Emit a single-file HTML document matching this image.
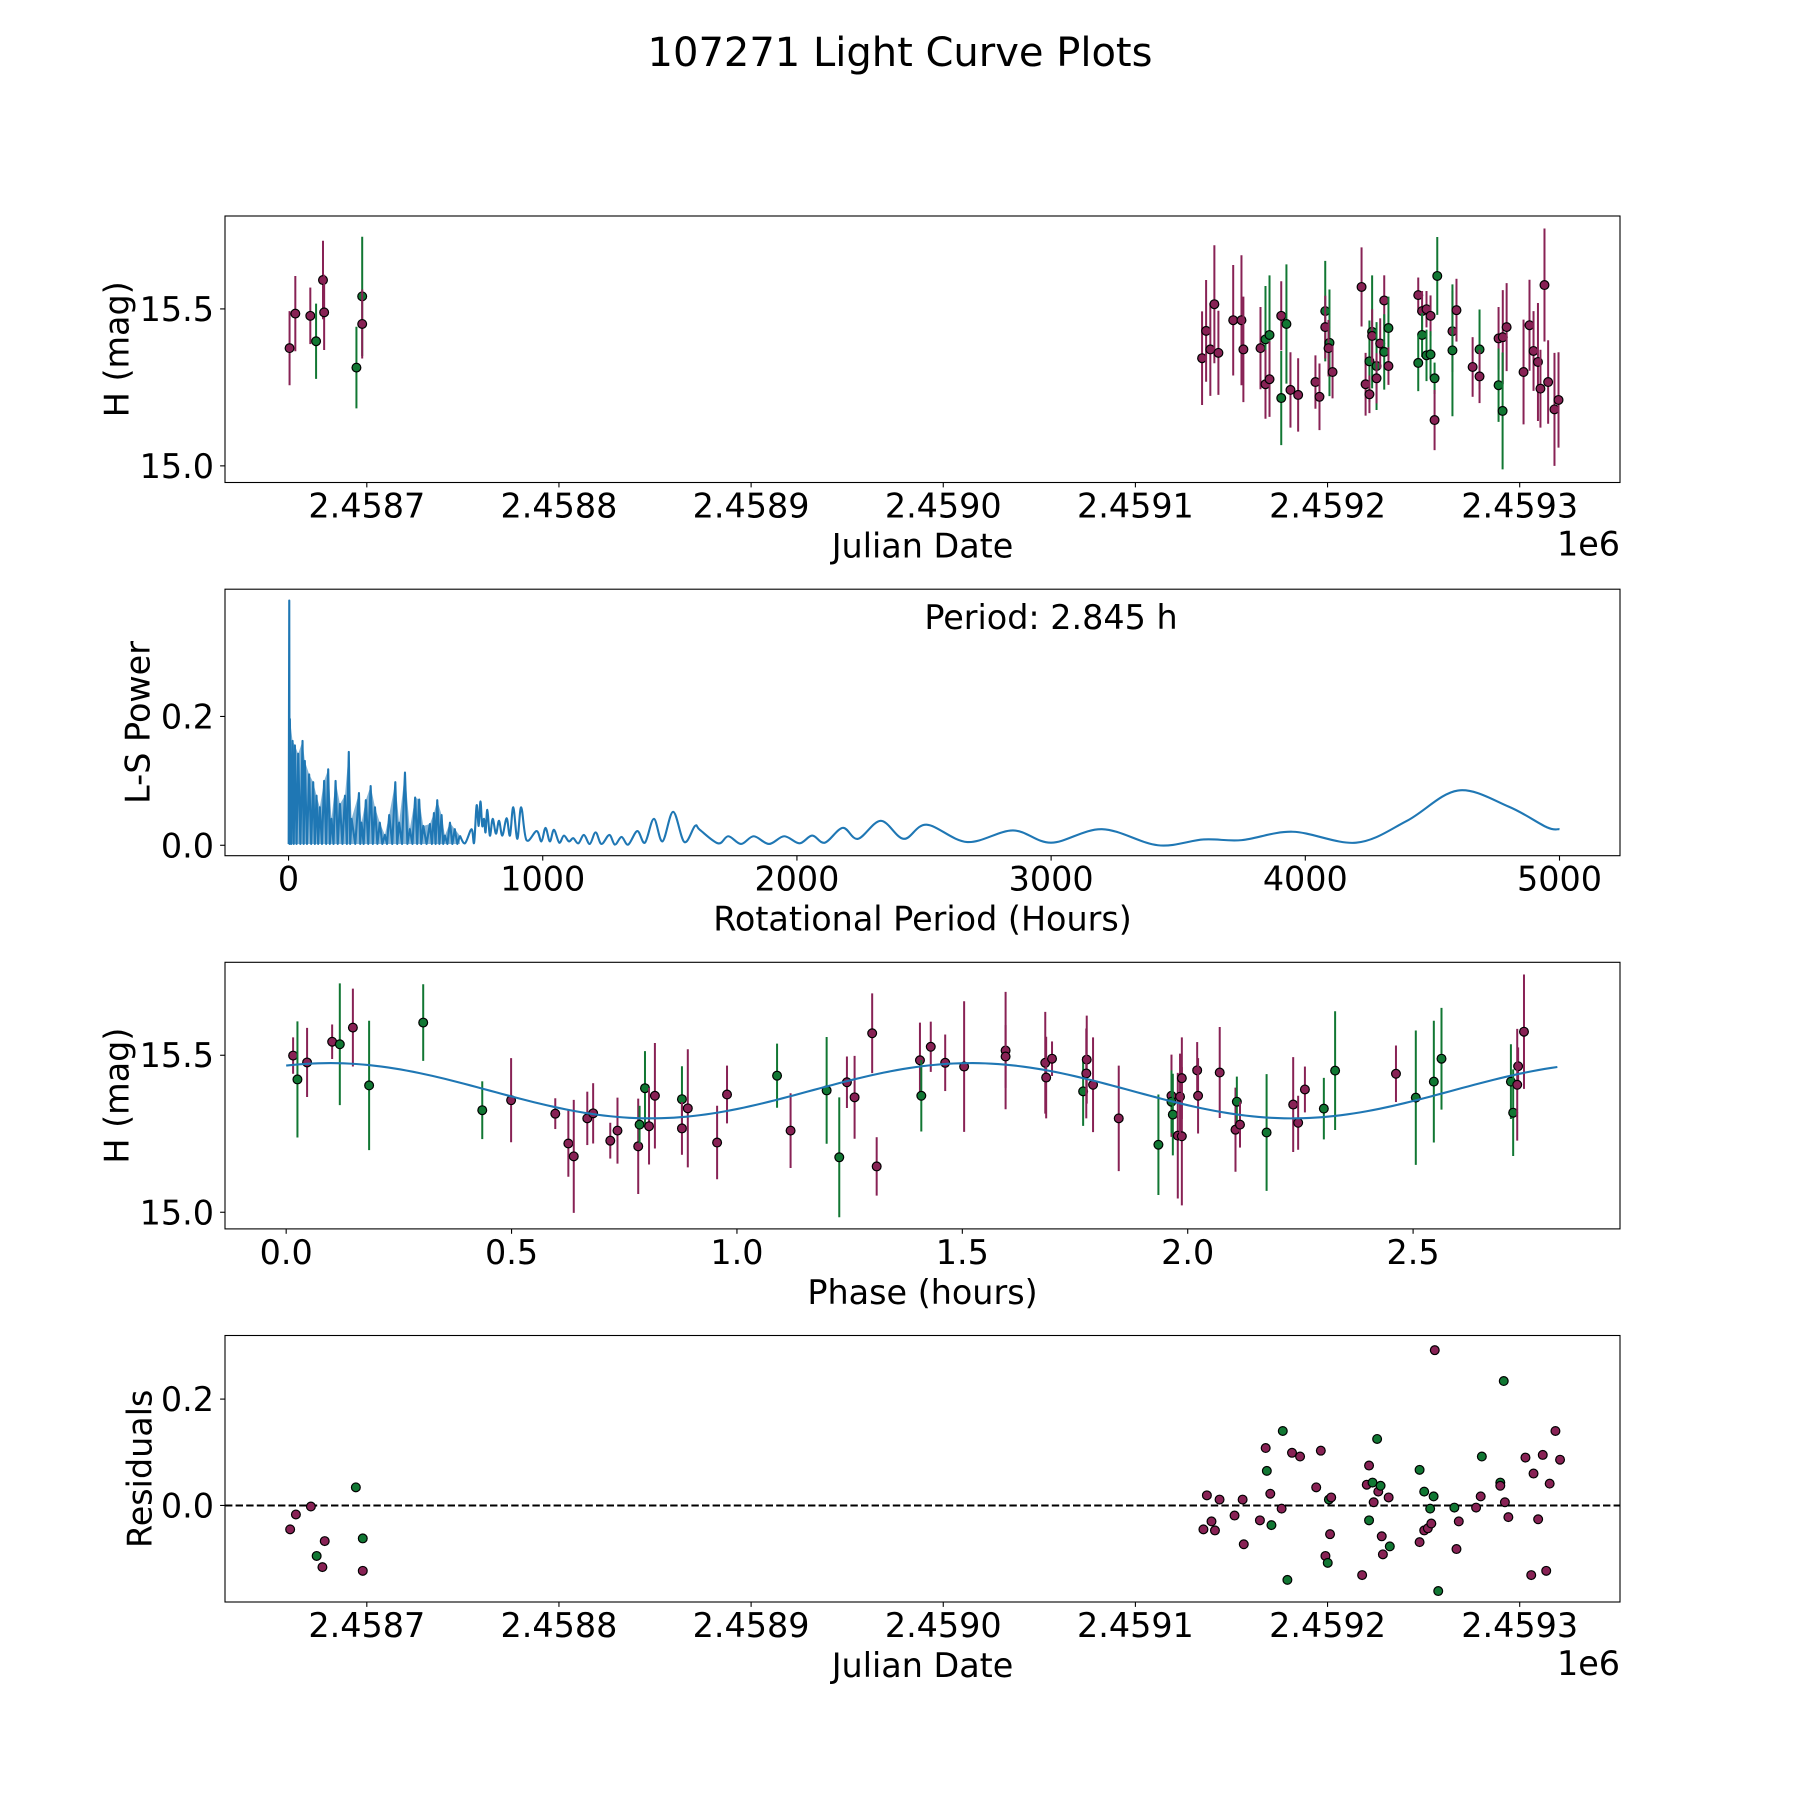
<!DOCTYPE html>
<html><head><meta charset="utf-8"><title>107271 Light Curve Plots</title>
<style>html,body{margin:0;padding:0;background:#fff}svg{display:block}text{font-family:"DejaVu Sans","Liberation Sans",sans-serif;fill:#000}</style>
</head><body>
<svg id="fig" xmlns="http://www.w3.org/2000/svg" width="1800" height="1800" viewBox="0 0 1800 1800">
<rect x="0" y="0" width="1800" height="1800" fill="#fff"/>
<text x="900" y="66" text-anchor="middle" font-size="40">107271 Light Curve Plots</text>
<g id="g1"></g>
<g id="g2"></g>
<g id="g3"></g>
<g id="g4"></g>
</svg>
<script>
// ---------- data ----------
const JD0 = 2458600;
const lcDays = [59.8,62.8,70.6,73.6,77.2,77.8,94.6,97.6,97.6,
534.7,536.8,539,541.1,543.2,550.9,555.2,556.2,565.1,567.7,569.8,567.7,569.8,575.9,575.9,578.6,580.7,584.7,593.7,595.8,598.8,598.8,601,600.5,602.6,617.7,619.8,621.8,621.8,623.2,623.2,625.5,625.5,627.4,629.5,629.5,631.7,631.7,647.2,649.2,649.2,651.5,653.6,647.2,651.5,653.6,657.1,655.7,655.7,665,665,667.1,675.5,679.1,679.1,689,691.2,693.2,689,691.1,702,705.1,707.2,709.5,710.8,712.9,714.8,718.1,720.2];
const lcMag = [15.375,15.485,15.478,15.397,15.592,15.489,15.313,15.54,15.452,
15.343,15.430,15.371,15.515,15.360,15.464,15.464,15.371,15.375,15.403,15.417,15.260,15.276,15.478,15.216,15.452,15.242,15.226,15.267,15.220,15.493,15.442,15.392,15.375,15.299,15.570,15.260,15.333,15.228,15.427,15.414,15.318,15.279,15.390,15.527,15.363,15.439,15.318,15.544,15.493,15.417,15.499,15.478,15.328,15.352,15.355,15.605,15.279,15.146,15.429,15.368,15.496,15.315,15.371,15.285,15.406,15.410,15.442,15.257,15.175,15.299,15.448,15.366,15.331,15.246,15.576,15.267,15.180,15.210];
const lcErr = [0.118,0.12,0.09,0.12,0.125,0.12,0.13,0.19,0.11,
0.149,0.162,0.148,0.188,0.134,0.176,0.207,0.168,0.131,0.17,0.19,0.11,0.12,0.11,0.15,0.19,0.12,0.117,0.085,0.106,0.16,0.1,0.17,0.09,0.084,0.126,0.1,0.13,0.06,0.18,0.085,0.14,0.08,0.08,0.08,0.12,0.1,0.06,0.056,0.064,0.07,0.058,0.065,0.09,0.082,0.074,0.124,0.05,0.096,0.13,0.21,0.1,0.095,0.127,0.085,0.1,0.15,0.14,0.117,0.186,0.167,0.145,0.127,0.188,0.124,0.18,0.133,0.18,0.152];
const lcBand = "MMMGMMGGM"+"MMMMMMMMMGGMMMGGMMMMGMGMMMMGMGMGMMMGGMMMGMMGGGGGMMGMMGMMMMGGMMMMMMMMM";

const lsPeriod = [0.5,2.8,4,5.3,15.8,25,38,55,64,81,97,110,123,140,156,169,185,202,222,237,248,277,287,304,323,340,359,379,396,420,435,458,477,498,514,530,556,572,585,602,615,635,654,674,
694,720,730,740,748,755,762,769,775,782,792,803,816,828,841,858,871,884,900,915,936,976,995,1011,1028,1044,1065,1083,1103,1120,1140,1162,1185,1208,1231,1262,1284,1310,1336,1372,1402,1437,1471,1513,1557,1599,1618,1690,1730,1780,1830,1890,1950,2010,2060,2110,2180,2240,2330,2420,2510,2670,2850,3000,3200,3420,3600,3750,3950,4200,4400,4600,4800,4950,5000];
const lsPower = [0.002,0.380,0.002,0.196,0.162,0.155,0.142,0.162,0.131,0.11,0.098,0.077,0.059,0.1,0.118,0.041,0.1,0.064,0.077,0.145,0.041,0.081,0.035,0.07,0.092,0.059,0.035,0.016,0.047,0.098,0.035,0.113,0.025,0.074,0.071,0.03,0.033,0.05,0.07,0.047,0.015,0.035,0.025,0.015,
0.003,0.025,0.004,0.062,0.03,0.068,0.03,0.041,0.02,0.055,0.015,0.041,0.018,0.038,0.015,0.042,0.015,0.059,0.01,0.059,0.008,0.022,0.006,0.027,0.006,0.024,0.004,0.015,0.006,0.011,0.003,0.016,0.002,0.02,0.002,0.016,0.001,0.013,0.001,0.022,0.004,0.041,0.006,0.052,0.005,0.03,0.024,0.003,0.014,0.002,0.014,0.002,0.014,0.003,0.015,0.004,0.027,0.01,0.038,0.01,0.032,0.005,0.023,0.004,0.025,0.0,0.009,0.008,0.021,0.004,0.038,0.085,0.06,0.028,0.025];
const lsDenseLimit = 690;
const bestPeriodLabel = "Period: 2.845 h";

const phHours = [0.0154,0.025,0.0464,0.102,0.119,0.148,0.184,0.304,0.435,0.499,0.597,0.626,0.638,0.668,0.681,0.719,0.735,0.781,0.784,0.796,0.805,0.818,0.878,0.878,0.891,0.956,0.978,
1.089,1.119,1.199,1.227,1.244,1.261,1.300,1.310,1.406,1.409,1.430,1.462,1.504,1.596,1.596,1.684,1.686,1.699,1.768,1.776,1.775,1.790,1.847,1.935,
1.964,1.964,1.967,1.978,1.987,1.983,1.987,2.021,2.023,2.071,2.106,2.109,2.116,2.175,2.234,2.245,2.260,2.302,2.327,2.462,2.506,2.546,2.563,2.717,2.722,2.733,2.731,2.746];
const phMag = [15.499,15.423,15.477,15.543,15.535,15.588,15.404,15.604,15.325,15.357,15.314,15.219,15.178,15.299,15.315,15.228,15.260,15.210,15.279,15.395,15.274,15.371,15.360,15.267,15.331,15.222,15.375,
15.435,15.260,15.388,15.175,15.414,15.366,15.570,15.146,15.484,15.371,15.527,15.476,15.464,15.515,15.496,15.476,15.429,15.489,15.385,15.486,15.442,15.406,15.299,15.215,
15.371,15.352,15.311,15.244,15.242,15.368,15.427,15.452,15.371,15.445,15.263,15.352,15.279,15.254,15.343,15.285,15.391,15.330,15.451,15.441,15.365,15.416,15.489,15.416,15.317,15.465,15.406,15.575];
const phErr = [0.058,0.185,0.11,0.055,0.194,0.124,0.206,0.122,0.092,0.134,0.049,0.106,0.18,0.085,0.096,0.057,0.105,0.152,0.06,0.118,0.122,0.168,0.105,0.084,0.188,0.117,0.092,
0.102,0.119,0.17,0.191,0.082,0.132,0.127,0.093,0.12,0.114,0.08,0.09,0.208,0.187,0.1,0.162,0.13,0.055,0.11,0.14,0.143,0.151,0.168,0.16,
0.131,0.1,0.13,0.2,0.22,0.137,0.13,0.09,0.12,0.145,0.134,0.08,0.073,0.186,0.151,0.086,0.073,0.098,0.189,0.09,0.214,0.194,0.162,0.119,0.138,0.06,0.178,0.182];
const phBand = "MGMMGMGGGMMMMMMMMMGGMMGMMMM"+"GMGGMMMMMGMMMMMMMMGMMMMG"+"MGGMMMMMMMMGMGMMMGGMGGGGGMMM";
const modelParams = [15.387, 0.088, 0.097, 2.845]; // mean, amplitude, peak phase, period (h)
const modelEnd = 2.82;

const resDays = [60.1,63.1,70.9,73.9,76.9,78.1,94.3,97.9,97.9,
535.4,537.2,539.6,541.4,543.8,551.6,555.8,556.4,564.8,567.8,568.4,570.2,570.8,576.1,576.7,579.1,581.5,585.7,594.1,596.5,598.9,600.1,600.7,601.9,601.3,618.0,620.4,621.6,621.6,623.4,624.0,625.8,626.4,627.6,628.2,628.8,631.8,632.4,647.9,647.9,650.3,650.3,652.2,653.4,654.0,655.2,655.8,657.6,666.0,667.1,668.3,677.3,679.7,680.3,689.9,689.9,691.7,692.3,694.1,703.0,706.0,707.2,709.6,712.0,713.8,715.6,718.6,721.0];
const resVal = [-0.045,-0.017,-0.002,-0.095,-0.116,-0.067,0.034,-0.062,-0.123,
-0.045,0.019,-0.03,-0.047,0.011,-0.019,0.011,-0.073,-0.028,0.108,0.065,0.022,-0.037,-0.006,0.14,-0.14,0.099,0.092,0.034,0.103,-0.095,-0.108,0.011,0.015,-0.054,-0.131,0.039,0.075,-0.028,0.043,0.006,0.125,0.026,0.037,-0.058,-0.092,0.015,-0.077,0.067,-0.069,0.026,-0.047,-0.043,-0.006,-0.034,0.017,0.292,-0.161,-0.004,-0.082,-0.03,-0.004,0.017,0.092,0.043,0.037,0.234,0.006,-0.022,0.09,-0.131,0.06,-0.026,0.095,-0.123,0.041,0.14,0.086];
const resBand = "MMMGMMGGM"+"MMMMMMMMMMGMGMGGMMMMMGGMMMMMGGMGMGMMMGGMGMMGMGMGGMMMMGGMGMMMMMMMMMMM";

const jdTicks = [100,200,300,400,500,600,700];
const jdTickLabels = ["2.4587","2.4588","2.4589","2.4590","2.4591","2.4592","2.4593"];
const magTicks = [15.0,15.5];
const magTickLabels = ["15.0","15.5"];
const periodTicks = [0,1000,2000,3000,4000,5000];
const periodTickLabels = ["0","1000","2000","3000","4000","5000"];
const powerTicks = [0.0,0.2];
const powerTickLabels = ["0.0","0.2"];
const phaseTicks = [0,0.5,1.0,1.5,2.0,2.5];
const phaseTickLabels = ["0.0","0.5","1.0","1.5","2.0","2.5"];
const resTicks = [0.0,0.2];
const resTickLabels = ["0.0","0.2"];

// ---------- rendering ----------
const NS = "http://www.w3.org/2000/svg";
const COL = {M:"#882255", G:"#117733"};
const FS = 33.4;
function mk(parent, tag, attrs, text){
  const e = document.createElementNS(NS, tag);
  for (const k in attrs) e.setAttribute(k, attrs[k]);
  if (text !== undefined) e.textContent = text;
  parent.appendChild(e); return e;
}
function makeAxes(x0,x1,y0,y1,xmin,xmax,ymin,ymax){
  return {x0,x1,y0,y1,
    sx:v=>x0+(v-xmin)/(xmax-xmin)*(x1-x0),
    sy:v=>y1-(v-ymin)/(ymax-ymin)*(y1-y0)};
}
function frame(g, ax){
  const r = mk(g,"rect",{x:ax.x0,y:ax.y0,width:ax.x1-ax.x0,height:ax.y1-ax.y0,fill:"none",stroke:"#000","stroke-width":1.1});
  
  
}
function xTicks(g, ax, ticks, labels){
  ticks.forEach((t,i)=>{
    const x = ax.sx(t);
    const l = mk(g,"line",{x1:x,x2:x,y1:ax.y1,y2:ax.y1+4.9,stroke:"#000","stroke-width":1.1});
    
    
    const tx = mk(g,"text",{x:x,y:ax.y1+35,"text-anchor":"middle","font-size":FS},labels[i]);
    
    
  });
}
function yTicks(g, ax, ticks, labels){
  ticks.forEach((t,i)=>{
    const y = ax.sy(t);
    const l = mk(g,"line",{x1:ax.x0-4.9,x2:ax.x0,y1:y,y2:y,stroke:"#000","stroke-width":1.1});
    
    
    const tx = mk(g,"text",{x:ax.x0-11,y:y+12,"text-anchor":"end","font-size":FS},labels[i]);
    
    
  });
}
function xLabel(g, ax, s){
  const t = mk(g,"text",{x:(ax.x0+ax.x1)/2,y:ax.y1+75,"text-anchor":"middle","font-size":FS},s);
  
  
}
function yLabel(g, ax, s, cx){
  const cy=(ax.y0+ax.y1)/2;
  const t = mk(g,"text",{x:cx,y:cy,"text-anchor":"middle","dominant-baseline":"central","font-size":FS,transform:`rotate(-90 ${cx} ${cy})`},s);
  
  
}
function offsetLabel(g, ax){
  const t = mk(g,"text",{x:ax.x1,y:ax.y1+73,"text-anchor":"end","font-size":FS},"1e6");
  
  
}
function errPoints(g, ax, xs, ys, es, bands, withErr){
  const n = Math.min(xs.length, ys.length, bands.length);
  for (let i=0;i<n;i++){
    const c = COL[bands[i]] || COL.M;
    const x = ax.sx(xs[i]), y = ax.sy(ys[i]);
    if (withErr){
      const e = es[i] || 0;
      const b = mk(g,"line",{x1:x,x2:x,y1:ax.sy(ys[i]+e),y2:ax.sy(ys[i]-e),stroke:c,"stroke-width":2});
      
      
    }
    const p = mk(g,"circle",{cx:x,cy:y,r:4.4,fill:c,stroke:"#000","stroke-width":1.2});
    
    
  }
}
function catmull(pts){
  let d = `M${pts[0][0]},${pts[0][1]}`;
  for (let i=0;i<pts.length-1;i++){
    const p0=pts[Math.max(0,i-1)],p1=pts[i],p2=pts[i+1],p3=pts[Math.min(pts.length-1,i+2)];
    const c1x=p1[0]+(p2[0]-p0[0])/6,c1y=p1[1]+(p2[1]-p0[1])/6;
    const c2x=p2[0]-(p3[0]-p1[0])/6,c2y=p2[1]-(p3[1]-p1[1])/6;
    d+=` C${c1x},${c1y} ${c2x},${c2y} ${p2[0]},${p2[1]}`;
  }
  return d;
}

// Panel 1: light curve
const g1 = document.getElementById("g1");
const ax1 = makeAxes(225,1620,216,482.5,26.2,752.2,14.947,15.796);
errPoints(g1, ax1, lcDays, lcMag, lcErr, lcBand, true);
frame(g1, ax1); xTicks(g1, ax1, jdTicks, jdTickLabels); yTicks(g1, ax1, magTicks, magTickLabels);
xLabel(g1, ax1, "Julian Date"); yLabel(g1, ax1, "H (mag)", 117); offsetLabel(g1, ax1);

// Panel 2: periodogram
const g2 = document.getElementById("g2");
const ax2 = makeAxes(225,1620,589.2,855.7,-250,5238,-0.0162,0.3976);
{
  let dense = [], peaks = [], smooth = [];
  for (let i=0;i<lsPeriod.length;i++){
    const pt=[ax2.sx(lsPeriod[i]), ax2.sy(lsPower[i])];
    if (lsPeriod[i] < lsDenseLimit){
      dense.push(pt);
      if (i>=3) peaks.push(pt);
      if (i>2 && i+1<lsPeriod.length && lsPeriod[i+1] < lsDenseLimit){
        dense.push([ax2.sx((lsPeriod[i]+lsPeriod[i+1])/2), ax2.sy(0.002)]);
      }
    } else smooth.push(pt);
  }
  const base = ax2.sy(0.002);
  const fd = `M${peaks[0][0]},${base} L` + peaks.map(p=>p.join(",")).join(" L") + ` L${peaks[peaks.length-1][0]},${base} Z`;
  const f = mk(g2,"path",{d:fd,fill:"#1f77b4","fill-opacity":0.55,stroke:"none"});
  
  
  smooth.unshift(dense[dense.length-1]);
  const d1 = "M"+dense.map(p=>p.join(",")).join(" L");
  const l1 = mk(g2,"path",{d:d1,fill:"none",stroke:"#1f77b4","stroke-width":2.1,"stroke-linejoin":"round"});
  
  
  const l2 = mk(g2,"path",{d:catmull(smooth),fill:"none",stroke:"#1f77b4","stroke-width":2.1,"stroke-linejoin":"round"});
  
  
}
frame(g2, ax2); xTicks(g2, ax2, periodTicks, periodTickLabels); yTicks(g2, ax2, powerTicks, powerTickLabels);
xLabel(g2, ax2, "Rotational Period (Hours)"); yLabel(g2, ax2, "L-S Power", 138);
{
  const t = mk(g2,"text",{x:1051,y:629,"text-anchor":"middle","font-size":FS},bestPeriodLabel);
  
  
}

// Panel 3: phase fold
const g3 = document.getElementById("g3");
const ax3 = makeAxes(225,1620,962.3,1228.9,-0.1357,2.959,14.947,15.796);
errPoints(g3, ax3, phHours, phMag, phErr, phBand, true);
{
  const [mean, amp, pk, P] = modelParams;
  const pts=[];
  for (let k=0;k<=200;k++){ const p=modelEnd*k/200; pts.push([ax3.sx(p), ax3.sy(mean+amp*Math.cos(4*Math.PI*(p-pk)/P))]); }
  const m = mk(g3,"path",{d:"M"+pts.map(p=>p.join(",")).join(" L"),fill:"none",stroke:"#1f77b4","stroke-width":2.1});
  
  
}
frame(g3, ax3); xTicks(g3, ax3, phaseTicks, phaseTickLabels); yTicks(g3, ax3, magTicks, magTickLabels);
xLabel(g3, ax3, "Phase (hours)"); yLabel(g3, ax3, "H (mag)", 117);

// Panel 4: residuals
const g4 = document.getElementById("g4");
const ax4 = makeAxes(225,1620,1335.5,1602,26.2,752.2,-0.1816,0.3196);
{
  const z = mk(g4,"line",{x1:ax4.x0,x2:ax4.x1,y1:ax4.sy(0),y2:ax4.sy(0),stroke:"#000","stroke-width":2,"stroke-dasharray":"7.4,3.2"});
  
  
}
errPoints(g4, ax4, resDays, resVal, [], resBand, false);
frame(g4, ax4); xTicks(g4, ax4, jdTicks, jdTickLabels); yTicks(g4, ax4, resTicks, resTickLabels);
xLabel(g4, ax4, "Julian Date"); yLabel(g4, ax4, "Residuals", 140); offsetLabel(g4, ax4);
</script>
</body></html>
